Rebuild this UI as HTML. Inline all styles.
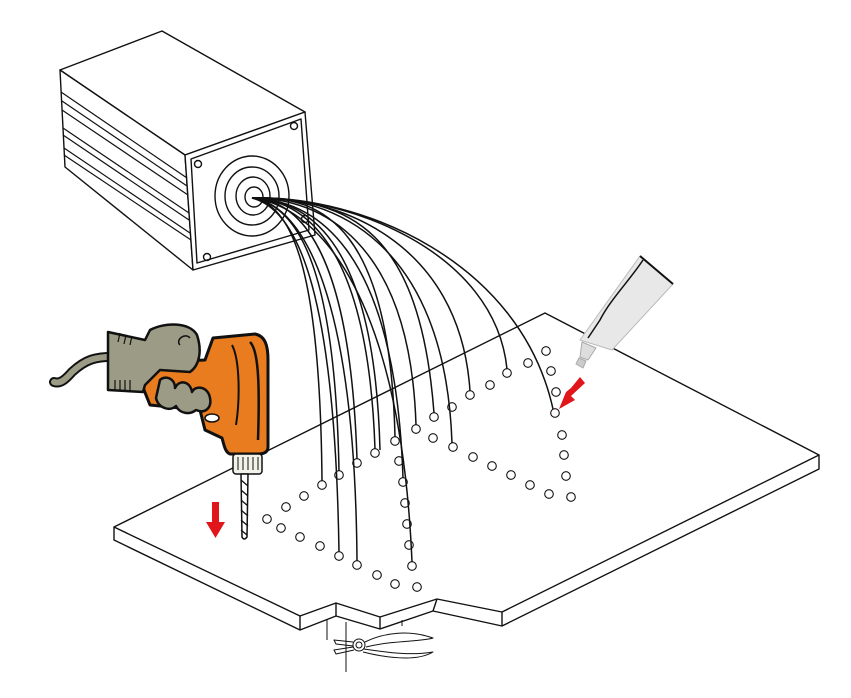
<!DOCTYPE html>
<html><head><meta charset="utf-8"><style>
html,body{margin:0;padding:0;background:#fff;}
svg{display:block;}
</style></head><body>
<svg width="851" height="698" viewBox="0 0 851 698" xmlns="http://www.w3.org/2000/svg">
<rect width="851" height="698" fill="#fff"/>
<g fill="none" stroke="#111" stroke-width="1.4" stroke-linejoin="round">
<!-- box -->
<polygon points="60,70 162,31 305,112 185,155" fill="#fff"/>
<polygon points="60,70 185,155 193,270 65,167" fill="#fff"/>
<polygon points="185,155 305,112 315,235 193,270" fill="#fff"/>
<polygon points="191,159 301,119 309,230 197,263"/>
<g stroke-width="1.2">
<line x1="61" y1="92" x2="187" y2="178"/>
<line x1="62" y1="101" x2="187" y2="186"/>
<line x1="62" y1="110" x2="188" y2="195"/>
<line x1="63" y1="128" x2="189" y2="213"/>
<line x1="63" y1="135" x2="189" y2="220"/>
<line x1="64" y1="148" x2="190" y2="233"/>
<line x1="64" y1="155" x2="191" y2="240"/>
</g>
<ellipse cx="252" cy="196" rx="37" ry="40"/>
<ellipse cx="252" cy="196" rx="27" ry="29"/>
<ellipse cx="253" cy="196" rx="17" ry="19"/>
<ellipse cx="254" cy="197" rx="9" ry="10"/>
<circle cx="198" cy="164" r="3.5"/>
<circle cx="294" cy="126" r="3.5"/>
<circle cx="207" cy="257" r="3.5"/>
<circle cx="305" cy="219" r="3.5"/>

<!-- board -->
<polygon points="114,527 545,313 819,455 502,612 437,599 380,617 336,603 300,616" fill="#fff"/>
<polyline points="114,527 114,540 300,630 336,616 380,629 433,611 502,626 819,469 819,455"/>
<line x1="300" y1="616" x2="300" y2="630"/>
<line x1="336" y1="603" x2="336" y2="616"/>
<line x1="380" y1="617" x2="380" y2="629"/>
<line x1="437" y1="599" x2="433" y2="611"/>
<line x1="502" y1="612" x2="502" y2="626"/>

<!-- holes -->
<g stroke-width="1.1">
<circle cx="267" cy="519" r="4.3"/><circle cx="286" cy="507" r="4.3"/><circle cx="304" cy="496" r="4.3"/>
<circle cx="322" cy="485" r="4.3"/><circle cx="339" cy="475" r="4.3"/><circle cx="357" cy="463" r="4.3"/>
<circle cx="375" cy="453" r="4.3"/><circle cx="395" cy="441" r="4.3"/><circle cx="416" cy="429" r="4.3"/>
<circle cx="434" cy="417" r="4.3"/><circle cx="452" cy="407" r="4.3"/><circle cx="470" cy="395" r="4.3"/>
<circle cx="490" cy="385" r="4.3"/><circle cx="507" cy="373" r="4.3"/><circle cx="528" cy="363" r="4.3"/>
<circle cx="546" cy="351" r="4.3"/><circle cx="551" cy="371" r="4.3"/><circle cx="556" cy="392" r="4.3"/>
<circle cx="555" cy="413" r="4.3"/><circle cx="562" cy="435" r="4.3"/><circle cx="564" cy="455" r="4.3"/>
<circle cx="566" cy="476" r="4.3"/><circle cx="571" cy="497" r="4.3"/><circle cx="549" cy="494" r="4.3"/>
<circle cx="530" cy="485" r="4.3"/><circle cx="511" cy="475" r="4.3"/><circle cx="492" cy="466" r="4.3"/>
<circle cx="473" cy="457" r="4.3"/><circle cx="453" cy="447" r="4.3"/><circle cx="433" cy="438" r="4.3"/>
<circle cx="399" cy="461" r="4.3"/><circle cx="403" cy="482" r="4.3"/><circle cx="405" cy="503" r="4.3"/>
<circle cx="407" cy="524" r="4.3"/><circle cx="409" cy="545" r="4.3"/><circle cx="412" cy="566" r="4.3"/>
<circle cx="417" cy="587" r="4.3"/><circle cx="395" cy="584" r="4.3"/><circle cx="377" cy="575" r="4.3"/>
<circle cx="357" cy="565" r="4.3"/><circle cx="339" cy="556" r="4.3"/><circle cx="320" cy="546" r="4.3"/>
<circle cx="300" cy="537" r="4.3"/><circle cx="281" cy="528" r="4.3"/>
</g>

<!-- fibers -->
<g stroke-width="1.5">
<path d="M252,198 C290,205 320,260 322,481"/>
<path d="M252,198 C295,205 335,260 339,471"/>
<path d="M252,198 C300,200 350,250 357,459"/>
<path d="M252,198 C305,200 368,245 375,449"/>
<path d="M252,198 C310,200 395,240 403,478"/>
<path d="M252,198 C300,210 335,300 339,552"/>
<path d="M252,198 C305,205 355,300 357,561"/>
<path d="M252,198 C310,205 400,280 412,562"/>
<path d="M252,198 C320,198 410,240 416,425"/>
<path d="M252,198 C325,195 390,230 395,437"/>
<path d="M252,198 C330,195 445,240 452,443"/>
<path d="M252,198 C335,195 460,240 470,391"/>
<path d="M252,198 C345,195 495,250 507,369"/>
<path d="M252,198 C350,198 420,230 434,413"/>
<path d="M252,198 C360,195 520,260 553,409"/>
<path d="M252,198 C320,200 375,260 380,450"/>
</g>

<!-- pliers -->
<g stroke-width="1">
<line x1="327" y1="620" x2="327" y2="640"/>
<line x1="346" y1="622" x2="346" y2="672"/>
<line x1="402" y1="620" x2="402" y2="626"/>
<circle cx="359" cy="645" r="6"/><circle cx="359" cy="645" r="3"/>
<path d="M365,642 C385,632 410,630 433,638 C420,642 395,640 366,647"/>
<path d="M364,649 C385,652 410,656 433,652 C420,660 395,660 363,652"/>
<path d="M353,642 L334,640 L336,644 L353,646"/>
<path d="M353,647 L334,650 L336,654 L354,650"/>
</g>
</g>

<!-- glue tube -->
<g stroke-linejoin="round">
<polygon points="640,256 673,284 612,350 580,340" fill="#e8e8e8" stroke="#bbb" stroke-width="1"/>
<line x1="640" y1="256" x2="673" y2="284" stroke="#111" stroke-width="2"/>
<path d="M643,260 C630,280 610,300 600,320 L588,338" stroke="#111" stroke-width="1.5" fill="none"/>
<polygon points="582,342 596,348 588,360 580,357" fill="#ddd" stroke="#aaa"/>
<polygon points="579,358 586,361 583,368 576,364" fill="#ccc" stroke="#aaa"/>
</g>

<!-- red arrows -->
<g fill="#e0161b">
<polygon points="212,502 219,502 219,522 225,522 215.5,538 206,522 212,522"/>
<polygon points="580,377 585,383 571,396 575,400 559,409 566,392 571,388"/>
</g>

<!-- drill -->
<g stroke="#111" stroke-linejoin="round">
<!-- cord -->
<path d="M118,357 C95,356 85,360 72,372 C65,380 60,384 54,382" fill="none" stroke="#111" stroke-width="10" stroke-linecap="round"/>
<path d="M118,357 C95,356 85,360 72,372 C65,380 60,384 54,382" fill="none" stroke="#9b9b86" stroke-width="6" stroke-linecap="round"/>
<!-- body -->
<path d="M213,338 L255,334 C265,336 268,345 268,360 L268,447 C268,452 264,454 258,454 L230,454 C225,452 224,445 222,438 L205,430 L200,410 L150,405 L140,380 L142,363 L205,360 Z" fill="#e87c1e" stroke-width="3"/>
<path d="M250,342 C258,350 260,380 258,440" fill="none" stroke="#111" stroke-width="2.5"/>
<path d="M232,345 C240,360 240,400 236,425" fill="none" stroke="#111" stroke-width="2"/>
<!-- hand -->
<path d="M108,332 L145,340 L150,330 C165,322 190,322 197,335 C202,350 200,365 190,372 L160,370 L145,385 L143,392 L108,390 Z" fill="#9b9b86" stroke-width="2.5"/>
<path d="M160,380 C165,375 175,378 175,388 C178,380 190,380 192,392 C195,385 208,386 210,398 C212,408 205,414 196,410 C190,415 180,414 176,406 C170,412 158,408 156,398 Z" fill="#9b9b86" stroke-width="2.5"/>
<path d="M180,345 C175,340 185,332 190,338" fill="none" stroke-width="1.5"/>
<g stroke-width="1.2"><line x1="115" y1="380" x2="115" y2="390"/><line x1="120" y1="380" x2="120" y2="390"/><line x1="125" y1="380" x2="125" y2="390"/><line x1="130" y1="380" x2="130" y2="390"/><line x1="120" y1="333" x2="118" y2="342"/><line x1="126" y1="335" x2="124" y2="344"/><line x1="132" y1="336" x2="130" y2="345"/></g>
<ellipse cx="212" cy="418" rx="7" ry="4" fill="#fff" stroke-width="1.5"/>
<!-- chuck -->
<rect x="233" y="454" width="29" height="20" rx="3" fill="#f2f2e8" stroke-width="1.5"/>
<g stroke-width="1"><line x1="238" y1="457" x2="238" y2="470"/><line x1="243" y1="457" x2="243" y2="470"/><line x1="248" y1="457" x2="248" y2="470"/><line x1="253" y1="457" x2="253" y2="470"/><line x1="258" y1="457" x2="258" y2="470"/></g>
<path d="M241,474 L248,474 L247,537 Q244,541 242,537 Z" fill="#fff" stroke-width="1.5"/>
<g stroke-width="1.3"><line x1="241" y1="480" x2="248" y2="486"/><line x1="241" y1="490" x2="248" y2="496"/><line x1="241" y1="500" x2="248" y2="506"/><line x1="241" y1="510" x2="248" y2="516"/><line x1="241" y1="520" x2="248" y2="526"/><line x1="241" y1="530" x2="247" y2="535"/></g>
</g>
</svg>
</body></html>
